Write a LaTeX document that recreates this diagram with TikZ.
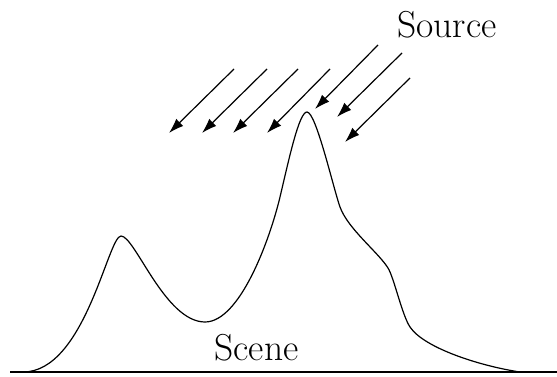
\documentclass[tikz,border=0pt]{standalone}
\usepackage{fontspec}
\usetikzlibrary{arrows.meta}
\begin{document}
\begin{tikzpicture}[x=1pt,y=-1pt,
  ray/.style={line width=1.2pt,-{Latex[length=15pt,width=10pt]}},
  lbl/.style={font=\fontsize{37.5}{40}\selectfont,anchor=base,inner sep=0pt}]
\useasboundingbox (0,0) rectangle (557,377);
% ground
\coordinate (g1) at (10,372);
\coordinate (g2) at (557,372);
\draw[line width=1.2pt] (g1) -- (g2);
% scene profile
\draw[line width=1.2pt,line join=round]
  (23,372) .. controls (85,372) and (108,236) .. (121,236)
  .. controls (135,236) and (165,322) .. (205,322)
  .. controls (240,322) and (270,239) .. (280,197)
  .. controls (289,159) and (299,112) .. (307,112)
  .. controls (316,112) and (333,187) .. (340,207)
  .. controls (348,229) and (378,252) .. (388,268)
  .. controls (394,277.6) and (402,315) .. (410,327)
  .. controls (424,348) and (480,366) .. (520,372);
% rays
\foreach \sx/\sy/\tx/\ty in {234/69/169/133, 267/69/202/133, 298/69/233/133,
  330/69/267/133, 378/45/315/109, 402/53/337/117, 410/78/345/142}{
  \coordinate (s) at (\sx,\sy);
  \coordinate (t) at (\tx,\ty);
  \draw[ray] (s) -- (t);
}
\node[lbl] (src) at (447,38) {Source};
\node[lbl] (scn) at (256.5,360) {Scene};
\end{tikzpicture}
\end{document}
